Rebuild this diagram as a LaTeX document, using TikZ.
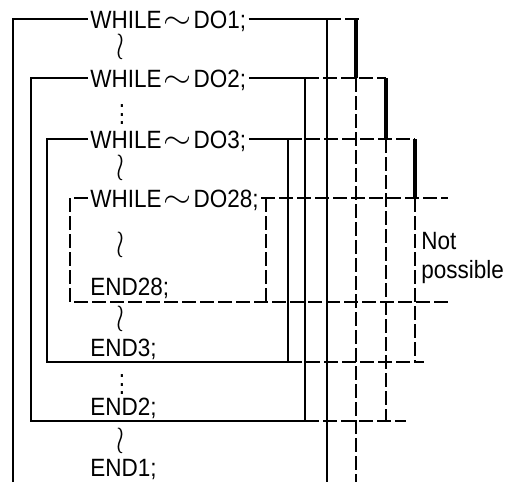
\documentclass[tikz,border=0pt]{standalone}
\usepackage{fontspec}
\setmainfont[FakeStretch=0.9]{Liberation Sans}
\usepackage{graphicx}
\newcommand{\wavy}{\kern1pt\scalebox{1.5}[1.3]{$\sim$}\kern1pt}

\begin{document}
\begin{tikzpicture}[x=0.5pt,y=-0.5pt,
  line/.style={line width=0.65pt},
  dline/.style={line width=0.65pt,dash pattern=on 7pt off 2pt},
  bar/.style={line width=1.6pt},
  stmt/.style={anchor=west,inner sep=1pt,text height=9pt,text depth=0pt,font=\fontsize{12.5}{14}\selectfont},
  skip/.style={inner sep=0pt,font=\fontsize{12.5}{14}\selectfont}]
  \useasboundingbox (0,0) rectangle (512,482);

  \node[stmt] (w1) at (88,19) {WHILE\wavy DO1;};
  \node[stmt] (w2) at (88,78) {WHILE\wavy DO2;};
  \node[stmt] (w3) at (88,139) {WHILE\wavy DO3;};
  \node[stmt] (w28) at (88,198) {WHILE\wavy DO28;};
  \node[stmt] (e28) at (88,286) {END28;};
  \node[stmt] (e3) at (88,347) {END3;};
  \node[stmt] (e2) at (88,406) {END2;};
  \node[stmt] (e1) at (88,467) {END1;};
  \foreach \Y in {47,168,245,319,441} {
    \node[skip] (wr\Y) at (120,\Y) {\scalebox{1.2}[1.6]{$\wr$}};}
  \foreach \Y in {108,378} {
    \node[skip] (vd\Y) at (122,\Y) {\scalebox{1}[1.1]{$\vdots$}};}
  \node[anchor=west,align=left,inner sep=0pt,font=\fontsize{12.5}{14.5}\selectfont] (np) at (421,258) {Not\\possible};

  % DO1
  \draw[line] (13,482) |- (w1.west);
  \draw[line] (w1.east) -| (327,482);
  \draw[dline] (327,19) -- (361,19);
  \draw[bar] (356,19) -- (356,78);
  \draw[dline] (356,78) -- (356,482);

  % DO2
  \draw[line] (w2.west) -| (31,421) -- (305,421) |- (w2.east);
  \draw[dline] (305,78) -- (386,78);
  \draw[bar] (386,78) -- (386,139);
  \draw[dline] (386,139) -- (386,421);
  \draw[dline] (305,421) -- (406,421);

  % DO3
  \draw[line] (w3.west) -| (47,362) -- (288,362) |- (w3.east);
  \draw[dline] (288,139) -- (415,139);
  \draw[bar] (415,139) -- (415,198);
  \draw[dline] (415,198) -- (415,362);
  \draw[dline] (288,362) -- (424,362);

  % DO28
  \draw[dline] (w28.west) -| (70,302) -- (448,302);
  \draw[dline] (w28.east) -- (448,198);
  \draw[dline] (266,198) -- (266,302);
\end{tikzpicture}
\end{document}
